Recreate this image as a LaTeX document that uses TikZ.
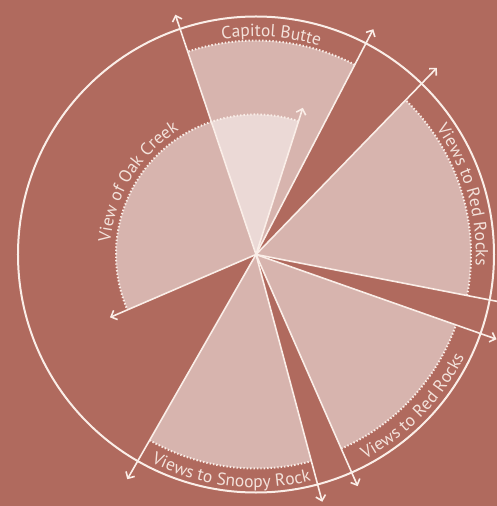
\documentclass[tikz,border=0pt]{standalone}
\usepackage{fontspec}
\newfontfamily\lblfont{PT Sans}
\usetikzlibrary{arrows.meta,decorations.text}
\definecolor{bgcol}{RGB}{176,106,94}
\definecolor{linecol}{RGB}{250,238,232}
\definecolor{txtcol}{RGB}{243,226,219}
\begin{document}
\begin{tikzpicture}[x=1pt,y=1pt,
  wedge/.style={fill=white,fill opacity=0.5},
  rim/.style={draw=linecol,line width=2pt,dash pattern=on 1.4pt off 2pt},
  ray/.style={draw=linecol,line width=1.6pt,-{Straight Barb[length=5pt,width=10pt]}},
  ring/.style={draw=linecol,line width=2pt},
  lbl/.style={decorate,decoration={text along path,text align=center,text color=txtcol}}]
\fill[bgcol] (-256,-251.5) rectangle (241,254.5);
\useasboundingbox (-256,-251.5) rectangle (241,254.5);
\coordinate (C) at (0,0);
% wedges
\fill[wedge] (C) -- (62.5:214) arc[start angle=62.5,end angle=108.6,radius=214] -- cycle;
\fill[wedge] (C) -- (72.3:140) arc[start angle=72.3,end angle=203.3,radius=140] -- cycle;
\fill[wedge] (C) -- (-11:215) arc[start angle=-11,end angle=45.9,radius=215] -- cycle;
\fill[wedge] (C) -- (-66.3:212) arc[start angle=-66.3,end angle=-19.4,radius=212] -- cycle;
\fill[wedge] (C) -- (-119.8:214) arc[start angle=-119.8,end angle=-75,radius=214] -- cycle;
% dotted rims
\draw[rim] (62.5:214) arc[start angle=62.5,end angle=108.6,radius=214];
\draw[rim] (72.3:140) arc[start angle=72.3,end angle=203.3,radius=140];
\draw[rim] (-11:215) arc[start angle=-11,end angle=45.9,radius=215];
\draw[rim] (-66.3:212) arc[start angle=-66.3,end angle=-19.4,radius=212];
\draw[rim] (-119.8:214) arc[start angle=-119.8,end angle=-75,radius=214];
% outer ring
\draw[ring] (C) circle[radius=238];
% ray ends
\coordinate (cbL) at (108.6:253);
\coordinate (cbR) at (62.5:254);
\coordinate (ocL) at (203.3:159);
\coordinate (ocR) at (72.3:154);
\coordinate (rrA) at (45.9:260);
\coordinate (rrB) at (-11:256);
\coordinate (rrC) at (-19.4:255);
\coordinate (rrD) at (-66.3:253);
\coordinate (snA) at (-75:256);
\coordinate (snB) at (-119.8:259);
\foreach \e in {cbL,cbR,ocL,ocR,rrA,rrB,rrC,rrD,snA,snB}
  \draw[ray] (C) -- (\e);
% labels
\path[lbl,decoration={text={|\lblfont\fontsize{17.5}{17.5}\selectfont|Capitol Butte}}]
  (116:218) arc[start angle=116,end angle=56,radius=218];
\path[lbl,decoration={text={|\lblfont\fontsize{17.5}{17.5}\selectfont|View of Oak Creek}}]
  (215:146) arc[start angle=215,end angle=82,radius=146];
\path[lbl,decoration={text={|\lblfont\fontsize{17.5}{17.5}\selectfont|Views to Red Rocks}}]
  (63:220) arc[start angle=63,end angle=-31,radius=220];
\path[lbl,decoration={text={|\lblfont\fontsize{17.5}{17.5}\selectfont|Views to Red Rocks}}]
  (-93:232) arc[start angle=-93,end angle=5,radius=232];
\path[lbl,decoration={text={|\lblfont\fontsize{17.5}{17.5}\selectfont|Views to Snoopy Rock}}]
  (-146:233) arc[start angle=-146,end angle=-47,radius=233];
\end{tikzpicture}
\end{document}
